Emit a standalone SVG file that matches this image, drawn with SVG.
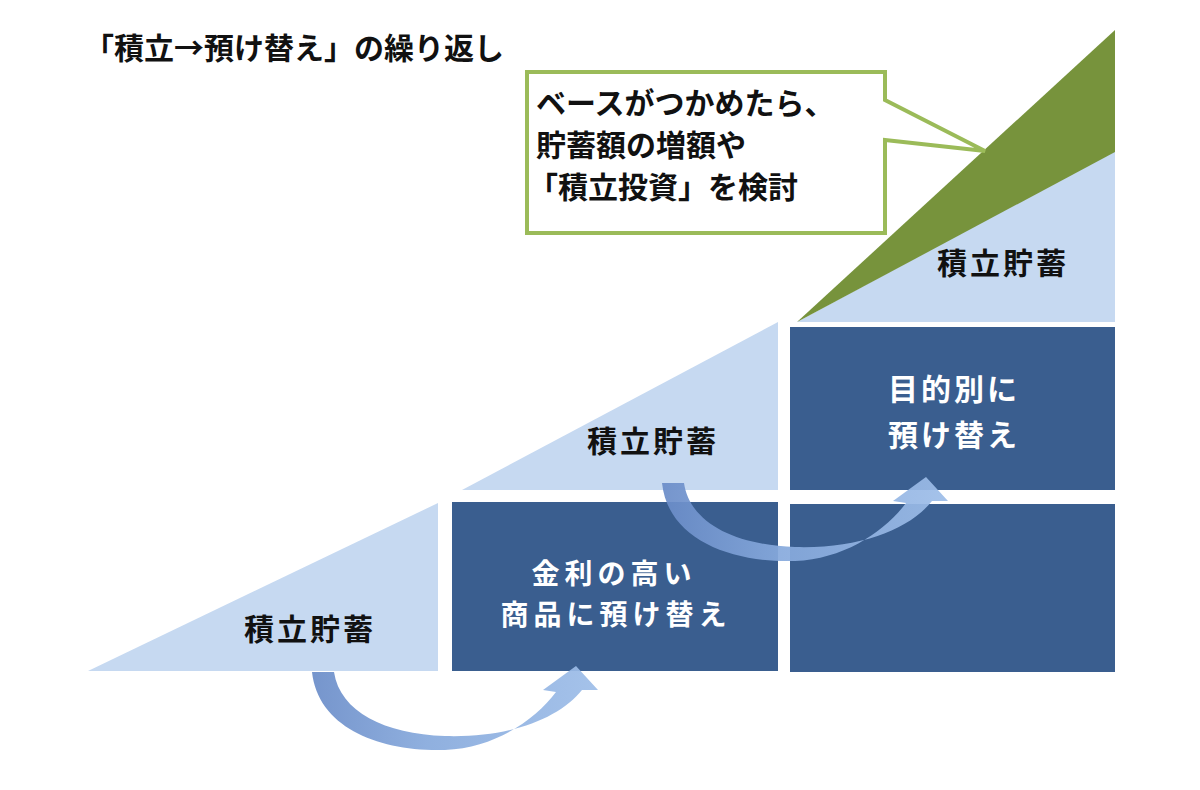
<svg xmlns="http://www.w3.org/2000/svg" width="1200" height="790" viewBox="0 0 1200 790">
<defs>
<style>
.lb{fill:#c6d9f1}
.db{fill:#3a5e8f}
.jp{font-family:"Noto Sans CJK JP","Noto Sans CJK SC",sans-serif;font-weight:bold}
.blk{fill:#111}
.wht{fill:#fff}
</style>
<linearGradient id="ag" x1="0" y1="0" x2="1" y2="0">
<stop offset="0" stop-color="#6a8cc8"/>
<stop offset="0.4" stop-color="#86a9dc"/>
<stop offset="1" stop-color="#9dbde8"/>
</linearGradient>
<path id="arrow" d="M312,672 C318,728 380,752 445,750 C495,748 535,720 556,692 L543,690 L576,666 L598,690 L582,690 C560,718 510,738 445,736 C385,734 340,712 334,672 Z" fill="url(#ag)" fill-opacity="0.92"/>
</defs>
<rect width="1200" height="790" fill="#fff"/>
<g id="title"><text class="jp blk" x="84" y="59" font-size="30">「積立→預け替え」の繰り返し</text></g>
<g id="tri1"><polygon class="lb" points="88,671 438,503 438,671"/><text class="jp blk" x="310" y="640" font-size="30" text-anchor="middle" letter-spacing="3">積立貯蓄</text></g>
<g id="tri2"><polygon class="lb" points="462,490 778,322 778,490"/><text class="jp blk" x="653" y="452" font-size="30" text-anchor="middle" letter-spacing="3">積立貯蓄</text></g>
<g id="tri3"><polygon class="lb" points="797,322 1115,150 1115,322"/><polygon fill="#77933c" points="797,322 1115,30 1115,152"/><text class="jp blk" x="1003" y="274" font-size="30" text-anchor="middle" letter-spacing="3">積立貯蓄</text></g>
<g id="box1"><rect class="db" x="452" y="502" width="326" height="169"/><text class="jp wht" x="614" y="584" font-size="28" text-anchor="middle" letter-spacing="5">金利の高い</text><text class="jp wht" x="616" y="625" font-size="28" text-anchor="middle" letter-spacing="5">商品に預け替え</text></g>
<g id="box2"><rect class="db" x="790" y="327" width="325" height="163"/><text class="jp wht" x="954" y="400" font-size="30" text-anchor="middle" letter-spacing="3">目的別に</text><text class="jp wht" x="954" y="446" font-size="30" text-anchor="middle" letter-spacing="3">預け替え</text></g>
<g id="box3"><rect class="db" x="790" y="504" width="325" height="168"/></g>
<g id="callout"><path d="M527,72 H885 V100 L985,151 L885,140 V233 H527 Z" fill="#fff" stroke="#9bbb59" stroke-width="4" stroke-linejoin="miter"/><text class="jp blk" font-size="30"><tspan x="536" y="114">ベースがつかめたら、</tspan><tspan x="536" y="156">貯蓄額の増額や</tspan><tspan x="528" y="198">「積立投資」を検討</tspan></text></g>
<g id="connectors">
<use href="#arrow"/>
<use href="#arrow" transform="translate(350,-189)"/>
</g>
</svg>
